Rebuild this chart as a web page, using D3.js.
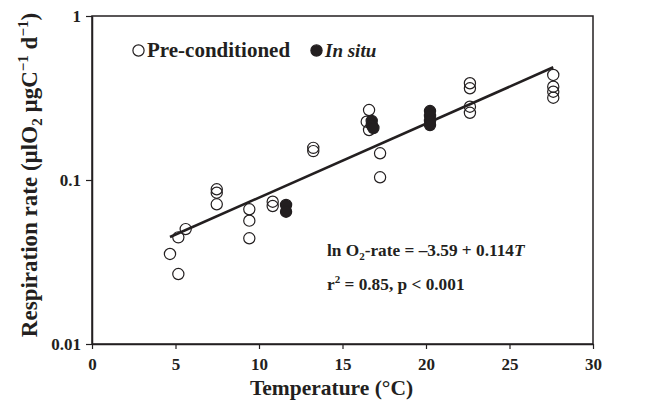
<!DOCTYPE html>
<html><head><meta charset="utf-8">
<script src="https://cdn.jsdelivr.net/npm/d3@7"></script>
<style>
body{margin:0;background:#fff;}
svg{display:block;font-family:"Liberation Serif","Times New Roman",serif;font-weight:bold;}
</style></head>
<body><svg id="c" width="657" height="401"></svg>
<script>
// Data (temperature in axis units, respiration rate)
const preTemp = [4.67,5.17,5.17,5.61,7.47,7.47,7.47,9.42,9.42,9.42,10.82,10.82,13.25,13.25,16.59,16.45,16.59,17.25,17.25,22.63,22.63,22.63,22.63,27.62,27.62,27.62,27.62];
const preRate = [0.0354,0.0267,0.0447,0.0502,0.0878,0.0837,0.0711,0.0663,0.0565,0.0441,0.0737,0.0694,0.157,0.150,0.267,0.2267,0.2018,0.1455,0.1039,0.389,0.3623,0.2799,0.257,0.437,0.3706,0.3454,0.3175];
const situTemp = [11.62,11.62,16.75,16.75,16.85,20.24,20.24,20.24,20.24];
const situRate = [0.0704,0.0641,0.229,0.2164,0.2075,0.2634,0.2456,0.229,0.2164];
const fitTemp = [4.67,27.62];
const fitRate = [0.0449,0.4866];
const xTicks = [0,5,10,15,20,25,30];
const yTicks = [0.01,0.1,1];
const yTickLabels = ["0.01","0.1","1"];

const svg = d3.select("#c");
const ink = "#231f20";
const x = d3.scaleLinear().domain([0,30]).range([92,593]);
const y = d3.scaleLog().domain([0.01,1]).range([344,16]);

// frame
svg.append("rect").attr("x",x(0)).attr("y",y(1)).attr("width",x(30)-x(0)).attr("height",y(0.01)-y(1))
  .attr("fill","none").attr("stroke",ink).attr("stroke-width",1.5);

const xAxis = svg.append("g").attr("transform",`translate(0,${y(0.01)})`)
  .call(d3.axisBottom(x).tickValues(xTicks).tickSize(5).tickSizeOuter(0).tickFormat(d3.format("d")));
const yAxis = svg.append("g").attr("transform",`translate(${x(0)},0)`)
  .call(d3.axisLeft(y).tickValues(yTicks).tickSize(6).tickSizeOuter(0).tickFormat((d,i)=>yTickLabels[i]));
[xAxis,yAxis].forEach(g=>{
  g.select(".domain").attr("stroke",ink).attr("stroke-width",1.5);
  g.selectAll(".tick line").attr("stroke",ink).attr("stroke-width",1.2);
  g.selectAll("text").attr("fill",ink).style("font-size","17px").style("font-family","Liberation Serif, serif").style("font-weight","bold");
});
xAxis.selectAll("text").attr("dy",null).attr("y",26);
yAxis.selectAll("text").attr("x",-11).attr("dy","0.35em");

// regression line
svg.append("line").attr("x1",x(fitTemp[0])).attr("y1",y(fitRate[0])).attr("x2",x(fitTemp[1])).attr("y2",y(fitRate[1]))
  .attr("stroke",ink).attr("stroke-width",2.6);

// points
const pre = preTemp.map((t,i)=>({t,r:preRate[i]}));
const situ = situTemp.map((t,i)=>({t,r:situRate[i]}));
svg.append("g").selectAll("circle").data(pre).join("circle")
  .attr("cx",d=>x(d.t)).attr("cy",d=>y(d.r)).attr("r",5.6)
  .attr("fill","none").attr("stroke",ink).attr("stroke-width",1.2);
svg.append("g").selectAll("circle").data(situ).join("circle")
  .attr("cx",d=>x(d.t)).attr("cy",d=>y(d.r)).attr("r",5.6)
  .attr("fill",ink).attr("stroke",ink).attr("stroke-width",1.2);

// legend
svg.append("circle").attr("cx",138.5).attr("cy",50.5).attr("r",5.6).attr("fill","none").attr("stroke",ink).attr("stroke-width",1.2);
svg.append("text").attr("x",147).attr("y",57).attr("fill",ink).style("font-size","21px").text("Pre-conditioned");
svg.append("circle").attr("cx",316.5).attr("cy",50.5).attr("r",5.6).attr("fill",ink).attr("stroke",ink).attr("stroke-width",1.2);
svg.append("text").attr("x",325).attr("y",57).attr("fill",ink).style("font-size","19px").style("font-style","italic").text("In situ");

// equation
const eq = svg.append("text").attr("x",327).attr("y",256).attr("fill",ink).style("font-size","17.3px");
eq.append("tspan").text("ln O");
eq.append("tspan").attr("dy",4).style("font-size","11px").text("2");
eq.append("tspan").attr("dy",-4).text("-rate = \u20133.59 + 0.114");
eq.append("tspan").style("font-style","italic").text("T");
const eq2 = svg.append("text").attr("x",327).attr("y",290).attr("fill",ink).style("font-size","17.3px");
eq2.append("tspan").text("r");
eq2.append("tspan").attr("dy",-7).style("font-size","11px").text("2");
eq2.append("tspan").attr("dy",7).text(" = 0.85, p < 0.001");

// axis titles
svg.append("text").attr("x",331.5).attr("y",395).attr("text-anchor","middle").attr("fill",ink)
  .style("font-size","21.5px").text("Temperature (\u00B0C)");
const yt = svg.append("text").attr("transform","translate(37,175) rotate(-90)").attr("text-anchor","middle").attr("fill",ink).style("font-size","23px");
yt.append("tspan").text("Respiration rate (\u00B5lO");
yt.append("tspan").attr("dy",5).style("font-size","15px").text("2");
yt.append("tspan").attr("dy",-5).text(" \u00B5gC");
yt.append("tspan").attr("dy",-9).style("font-size","15px").text("\u22121");
yt.append("tspan").attr("dy",9).text(" d");
yt.append("tspan").attr("dy",-9).style("font-size","15px").text("\u22121");
yt.append("tspan").attr("dy",9).text(")");
</script></body></html>
